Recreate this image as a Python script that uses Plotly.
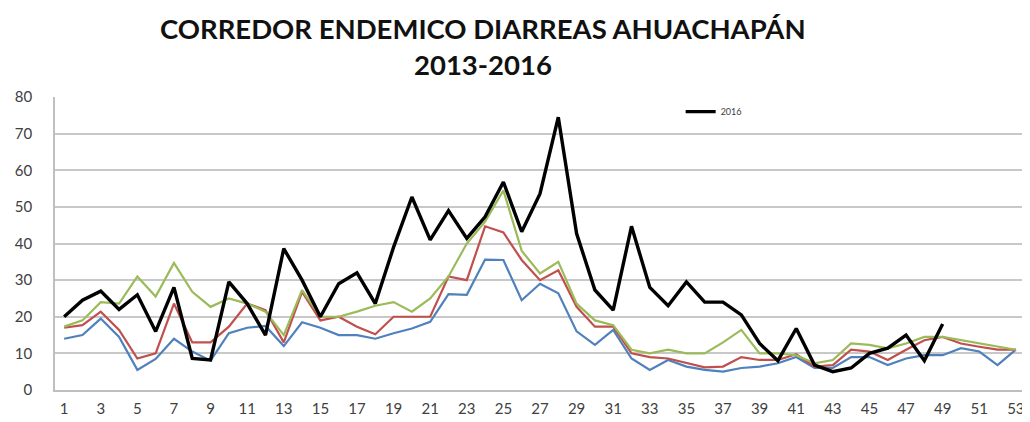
import plotly.graph_objects as go

weeks = list(range(1, 54))

# week-by-week cases
y2013 = [14, 15, 19.5, 14.5, 5.5, 8.5, 14, 10.5, 8, 15.5, 17, 17.5, 12, 18.5, 17, 15, 15, 14, 15.5,
         16.8, 18.6, 26.2, 26, 35.6, 35.5, 24.5, 29, 26.4, 16, 12.3, 16.4, 8.6, 5.5, 8.2, 6.4, 5.5,
         5, 6, 6.4, 7.3, 9, 6, 6, 9, 9, 6.8, 8.6, 9.5, 9.5, 11.4, 10.5, 6.8, 11]
y2014 = [17, 17.7, 21.4, 16.4, 8.6, 10, 23.6, 13, 13, 17.3, 23.6, 21.8, 13, 26.8, 19, 20, 17.3, 15.2,
         20, 20, 20, 31, 30, 44.7, 43, 35.5, 30, 32.7, 22.7, 17.3, 17.3, 10, 9, 8.6, 7.3, 6.2, 6.4,
         9, 8.2, 8.2, 9.8, 6.4, 6.8, 11, 10.5, 8.2, 11, 13.6, 14.5, 12.7, 11.8, 11, 11]
y2015 = [17.3, 19, 24, 23.6, 31, 25.5, 34.7, 26.8, 22.7, 25, 23.6, 21.4, 15, 27.3, 20, 20, 21.4, 23,
         24, 21.4, 25, 31, 40, 46, 54.5, 38, 31.8, 35, 23.6, 19, 17.7, 11, 10, 11, 10, 10, 13, 16.4,
         10, 10, 9.5, 7.3, 8.2, 12.7, 12.3, 11.4, 12.7, 14.5, 14.5, 13.6, 12.7, 11.8, 11]
y2016 = [20, 24.5, 27, 22, 26, 16, 28, 8.6, 8.2, 29.5, 23.6, 15, 38.6, 30, 20, 29, 32, 23.6, 39,
         52.7, 41, 49, 41.4, 47.3, 56.8, 43.2, 53.6, 74.5, 42.7, 27.3, 21.8, 44.7, 28, 23, 29.5,
         24, 24, 20.5, 12.7, 8, 16.8, 6.8, 5, 6, 10, 11.4, 15, 8, 18]

title_lines = ['CORREDOR ENDEMICO DIARREAS AHUACHAPÁN', '2013-2016']

fig = go.Figure()
fig.add_trace(go.Scatter(x=weeks, y=y2013, mode='lines', name='2013', showlegend=False,
                         line=dict(color='#4F81BD', width=2.2)))
fig.add_trace(go.Scatter(x=weeks, y=y2014, mode='lines', name='2014', showlegend=False,
                         line=dict(color='#C0504D', width=2.2)))
fig.add_trace(go.Scatter(x=weeks, y=y2015, mode='lines', name='2015', showlegend=False,
                         line=dict(color='#9BBB59', width=2.2)))
fig.add_trace(go.Scatter(x=weeks[:len(y2016)], y=y2016, mode='lines', name='2016',
                         line=dict(color='#000000', width=3.4)))

# title as two annotations so the line spacing can match
for i, txt in enumerate(title_lines):
    fig.add_annotation(text='<b>%s</b>' % txt, xref='paper', yref='paper',
                       x=(475 - 47) / 970, y=1 + (89 - 20 - 36 * i) / 293,
                       xanchor='center', yanchor='middle', showarrow=False,
                       font=dict(family='Lato', size=27.5, color='#111111'))

fig.update_layout(
    width=1022, height=414,
    paper_bgcolor='white', plot_bgcolor='white',
    margin=dict(l=47, r=5, t=89, b=32),
    font=dict(family='Lato', color='#404040'),
    legend=dict(x=0.645, y=0.95, xanchor='left', yanchor='middle', bgcolor='rgba(0,0,0,0)',
                font=dict(size=9, color='#404040')),
    xaxis=dict(range=[0.5, 53.5], tickmode='array', tickvals=list(range(1, 54, 2)),
               showgrid=False, zeroline=False, showline=True, linecolor='#BFBFBF', linewidth=1.5,
               ticks='', tickfont=dict(size=15), ticklabelstandoff=4),
    yaxis=dict(range=[0, 80], dtick=10, showgrid=True, gridcolor='#C8C8C8', gridwidth=1.5,
               zeroline=False, showline=True, linecolor='#BFBFBF', linewidth=1.5,
               ticks='', tickfont=dict(size=15), ticklabelstandoff=18),
)

fig.write_html("out.html")
